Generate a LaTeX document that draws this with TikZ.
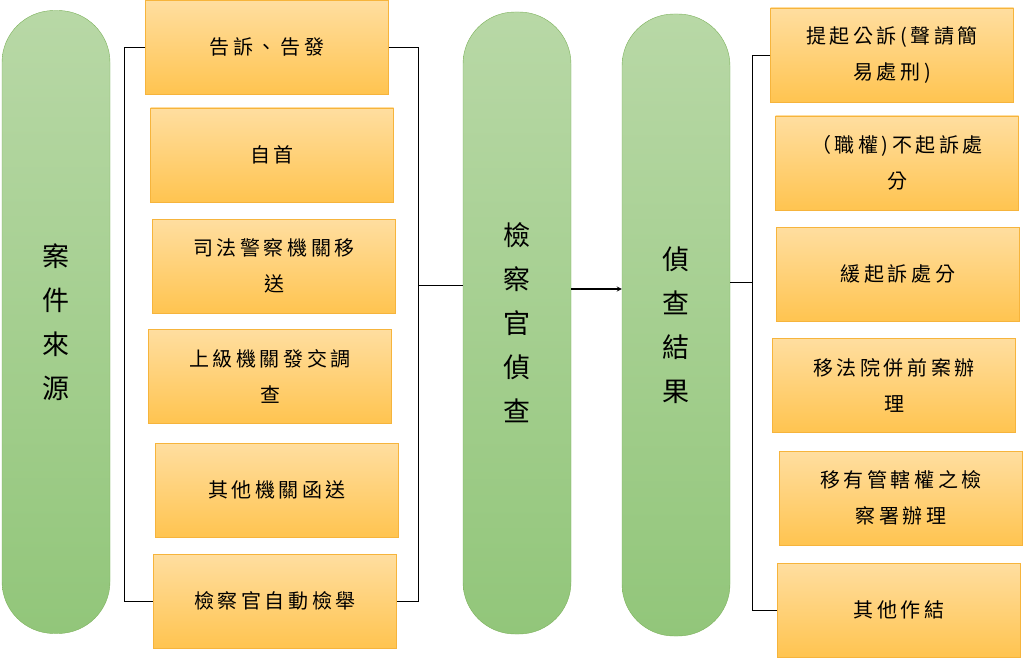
\documentclass[tikz,border=0pt]{standalone}
\usepackage{fontspec}
\newfontfamily\cjk[LetterSpace=18]{Noto Sans CJK TC}
\definecolor{pilltop}{RGB}{184,216,166}
\definecolor{pillbot}{RGB}{146,198,122}
\definecolor{pilledge}{RGB}{125,178,92}
\definecolor{boxtop}{RGB}{255,222,160}
\definecolor{boxbot}{RGB}{255,196,80}
\definecolor{boxedge}{RGB}{246,180,60}
\begin{document}
\begin{tikzpicture}[x=1pt,y=-1pt,
    arrow/.style = {very thick,-stealth},
    pill/.style = {draw=pilledge, top color=pilltop, bottom color=pillbot,
        rounded corners=52pt, minimum width=108pt, align=center, font=\cjk\fontsize{27}{44}\selectfont},
    box/.style = {draw=boxedge, top color=boxtop, bottom color=boxbot,
        minimum width=243pt, minimum height=94pt, align=center, font=\cjk\fontsize{20}{36}\selectfont},
    link/.style = {semithick}]
    \useasboundingbox (0,0) rectangle (1024,658);
    \fill[white] (0,0) rectangle (1024,658);

    \node[pill, minimum height=623pt] (src) at (56,322) {案\\件\\來\\源};
    \node[pill, minimum height=622pt] (inv) at (517,323) {檢\\察\\官\\偵\\查};
    \node[pill, minimum height=622pt] (res) at (676,325) {偵\\查\\結\\果};

    \node[box] (s1) at (267,47)  {告訴、告發};
    \node[box] (s2) at (272,155) {自首};
    \node[box] (s3) at (274,266) {司法警察機關移\\送};
    \node[box] (s4) at (270,376) {上級機關發交調\\查};
    \node[box] (s5) at (277,490) {其他機關函送};
    \node[box] (s6) at (275,601) {檢察官自動檢舉};

    \node[box] (r1) at (892,55)  {提起公訴(聲請簡\\易處刑)};
    \node[box] (r2) at (897,163) {（職權)不起訴處\\分};
    \node[box] (r3) at (898,274) {緩起訴處分};
    \node[box] (r4) at (894,385) {移法院併前案辦\\理};
    \node[box] (r5) at (901,498) {移有管轄權之檢\\察署辦理};
    \node[box] (r6) at (899,610) {其他作結};

    \coordinate (lb) at (124,0);
    \coordinate (rb) at (418,0);
    \coordinate (ob) at (752,0);
    \draw[link] (s1.west) -- (s1.west -| lb) -- (s6.west -| lb) -- (s6.west);
    \draw[link] (s1.east) -- (s1.east -| rb) -- (s6.east -| rb) -- (s6.east);
    \draw[link] (inv.west |- 0,285) -- (rb |- 0,285);
    \draw[arrow] (inv.east |- 0,289) -- (res.west |- 0,289);
    \draw[link] (r1.west) -- (r1.west -| ob) -- (r6.west -| ob) -- (r6.west);
    \draw[link] (res.east |- 0,282) -- (ob |- 0,282);
\end{tikzpicture}
\end{document}
